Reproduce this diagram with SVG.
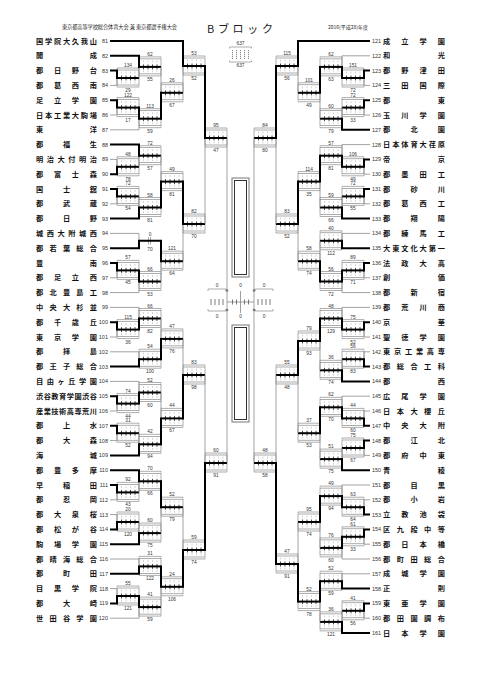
<svg xmlns="http://www.w3.org/2000/svg" xmlns:xlink="http://www.w3.org/1999/xlink" width="481" height="680" viewBox="0 0 481 680">
<style>
.nm{font-family:"Noto Sans CJK JP","Noto Sans CJK SC",sans-serif;font-size:7.2px;font-weight:700;fill:#111}
.no{font-family:"Liberation Sans",Arial,sans-serif;font-size:5.5px;fill:#333}
.ne{text-anchor:end}
.lb{font-family:"Liberation Sans",Arial,sans-serif;font-size:4.8px;fill:#333;text-anchor:middle}
.hd{font-family:"Noto Sans CJK JP","Noto Sans CJK SC",sans-serif;fill:#222}
.tn{stroke:#8a8a8a;stroke-width:0.8;fill:none}
.tk{stroke:#000;stroke-width:2;fill:none;stroke-linecap:square}
</style>
<defs>
<g id="bx">
<rect x="0" y="-8" width="22" height="15" fill="#fff" stroke="#777" stroke-width="0.6"/>
<path d="M0,-8.8V-10H22V-8.8M0,7.8V9H22V7.8" fill="none" stroke="#777" stroke-width="0.6"/>
<path d="M4.5,-6.5v2M9,-6.5v2M13.5,-6.5v2M18,-6.5v2M4.5,3.5v2M9,3.5v2M13.5,3.5v2M18,3.5v2" stroke="#aaa" stroke-width="0.5"/>
<path d="M4.5,-2.5v5M9,-2.5v5M13.5,-2.5v5M18,-2.5v5" stroke="#000" stroke-width="0.7"/>
<path d="M0,0H22" stroke="#000" stroke-width="2"/>
</g>
</defs>
<rect width="481" height="680" fill="#fff"/>
<g id="header">
<text class="hd" x="62" y="29" font-size="5.2" textLength="115" lengthAdjust="spacing">東京都高等学校総合体育大会 兼 東京都選手権大会</text>
<text class="hd" x="207" y="32.5" font-size="11" textLength="66" lengthAdjust="spacing">Bブロック</text>
<text class="hd" x="328" y="29" font-size="5" textLength="40" lengthAdjust="spacing">2016(平成28)年度</text>
</g>
<g id="teams-left">
<g id="t81"><text class="nm" x="36" y="43.6" textLength="61" lengthAdjust="spacing">国学院大久我山</text><text class="no ne" x="108" y="43">81</text></g>
<g id="t82"><text class="nm" x="36" y="58.4" textLength="61" lengthAdjust="spacing">開成</text><text class="no ne" x="108" y="57.8">82</text></g>
<g id="t83"><text class="nm" x="36" y="73.2" textLength="61" lengthAdjust="spacing">都日野台</text><text class="no ne" x="108" y="72.6">83</text></g>
<g id="t84"><text class="nm" x="36" y="88" textLength="61" lengthAdjust="spacing">都葛西南</text><text class="no ne" x="108" y="87.4">84</text></g>
<g id="t85"><text class="nm" x="36" y="102.8" textLength="61" lengthAdjust="spacing">足立学園</text><text class="no ne" x="108" y="102.2">85</text></g>
<g id="t86"><text class="nm" x="36" y="117.6" textLength="61" lengthAdjust="spacing">日本工業大駒場</text><text class="no ne" x="108" y="117">86</text></g>
<g id="t87"><text class="nm" x="36" y="132.4" textLength="61" lengthAdjust="spacing">東洋</text><text class="no ne" x="108" y="131.8">87</text></g>
<g id="t88"><text class="nm" x="36" y="147.2" textLength="61" lengthAdjust="spacing">都福生</text><text class="no ne" x="108" y="146.6">88</text></g>
<g id="t89"><text class="nm" x="36" y="162" textLength="61" lengthAdjust="spacing">明治大付明治</text><text class="no ne" x="108" y="161.4">89</text></g>
<g id="t90"><text class="nm" x="36" y="176.8" textLength="61" lengthAdjust="spacing">都富士森</text><text class="no ne" x="108" y="176.2">90</text></g>
<g id="t91"><text class="nm" x="36" y="191.6" textLength="61" lengthAdjust="spacing">国士舘</text><text class="no ne" x="108" y="191">91</text></g>
<g id="t92"><text class="nm" x="36" y="206.4" textLength="61" lengthAdjust="spacing">都武蔵</text><text class="no ne" x="108" y="205.8">92</text></g>
<g id="t93"><text class="nm" x="36" y="221.2" textLength="61" lengthAdjust="spacing">都日野</text><text class="no ne" x="108" y="220.6">93</text></g>
<g id="t94"><text class="nm" x="36" y="236" textLength="61" lengthAdjust="spacing">城西大附城西</text><text class="no ne" x="108" y="235.4">94</text></g>
<g id="t95"><text class="nm" x="36" y="250.8" textLength="61" lengthAdjust="spacing">都若葉総合</text><text class="no ne" x="108" y="250.2">95</text></g>
<g id="t96"><text class="nm" x="36" y="265.6" textLength="61" lengthAdjust="spacing">豊南</text><text class="no ne" x="108" y="265">96</text></g>
<g id="t97"><text class="nm" x="36" y="280.4" textLength="61" lengthAdjust="spacing">都足立西</text><text class="no ne" x="108" y="279.8">97</text></g>
<g id="t98"><text class="nm" x="36" y="295.2" textLength="61" lengthAdjust="spacing">都北豊島工</text><text class="no ne" x="108" y="294.6">98</text></g>
<g id="t99"><text class="nm" x="36" y="310" textLength="61" lengthAdjust="spacing">中央大杉並</text><text class="no ne" x="108" y="309.4">99</text></g>
<g id="t100"><text class="nm" x="36" y="324.8" textLength="61" lengthAdjust="spacing">都千歳丘</text><text class="no ne" x="108" y="324.2">100</text></g>
<g id="t101"><text class="nm" x="36" y="339.6" textLength="61" lengthAdjust="spacing">東京学園</text><text class="no ne" x="108" y="339">101</text></g>
<g id="t102"><text class="nm" x="36" y="354.4" textLength="61" lengthAdjust="spacing">都拝島</text><text class="no ne" x="108" y="353.8">102</text></g>
<g id="t103"><text class="nm" x="36" y="369.2" textLength="61" lengthAdjust="spacing">都王子総合</text><text class="no ne" x="108" y="368.6">103</text></g>
<g id="t104"><text class="nm" x="36" y="384" textLength="61" lengthAdjust="spacing">自由ヶ丘学園</text><text class="no ne" x="108" y="383.4">104</text></g>
<g id="t105"><text class="nm" x="36" y="398.8" textLength="61" lengthAdjust="spacing">渋谷教育学園渋谷</text><text class="no ne" x="108" y="398.2">105</text></g>
<g id="t106"><text class="nm" x="36" y="413.6" textLength="61" lengthAdjust="spacing">産業技術高専荒川</text><text class="no ne" x="108" y="413">106</text></g>
<g id="t107"><text class="nm" x="36" y="428.4" textLength="61" lengthAdjust="spacing">都上水</text><text class="no ne" x="108" y="427.8">107</text></g>
<g id="t108"><text class="nm" x="36" y="443.2" textLength="61" lengthAdjust="spacing">都大森</text><text class="no ne" x="108" y="442.6">108</text></g>
<g id="t109"><text class="nm" x="36" y="458" textLength="61" lengthAdjust="spacing">海城</text><text class="no ne" x="108" y="457.4">109</text></g>
<g id="t110"><text class="nm" x="36" y="472.8" textLength="61" lengthAdjust="spacing">都豊多摩</text><text class="no ne" x="108" y="472.2">110</text></g>
<g id="t111"><text class="nm" x="36" y="487.6" textLength="61" lengthAdjust="spacing">早稲田</text><text class="no ne" x="108" y="487">111</text></g>
<g id="t112"><text class="nm" x="36" y="502.4" textLength="61" lengthAdjust="spacing">都忍岡</text><text class="no ne" x="108" y="501.8">112</text></g>
<g id="t113"><text class="nm" x="36" y="517.2" textLength="61" lengthAdjust="spacing">都大泉桜</text><text class="no ne" x="108" y="516.6">113</text></g>
<g id="t114"><text class="nm" x="36" y="532" textLength="61" lengthAdjust="spacing">都松が谷</text><text class="no ne" x="108" y="531.4">114</text></g>
<g id="t115"><text class="nm" x="36" y="546.8" textLength="61" lengthAdjust="spacing">駒場学園</text><text class="no ne" x="108" y="546.2">115</text></g>
<g id="t116"><text class="nm" x="36" y="561.6" textLength="61" lengthAdjust="spacing">都晴海総合</text><text class="no ne" x="108" y="561">116</text></g>
<g id="t117"><text class="nm" x="36" y="576.4" textLength="61" lengthAdjust="spacing">都町田</text><text class="no ne" x="108" y="575.8">117</text></g>
<g id="t118"><text class="nm" x="36" y="591.2" textLength="61" lengthAdjust="spacing">目黒学院</text><text class="no ne" x="108" y="590.6">118</text></g>
<g id="t119"><text class="nm" x="36" y="606" textLength="61" lengthAdjust="spacing">都大崎</text><text class="no ne" x="108" y="605.4">119</text></g>
<g id="t120"><text class="nm" x="36" y="620.8" textLength="61" lengthAdjust="spacing">世田谷学園</text><text class="no ne" x="108" y="620.2">120</text></g>
</g>
<g id="teams-right">
<g id="t121"><text class="no" x="372" y="43">121</text><text class="nm" x="383" y="43.6" textLength="62" lengthAdjust="spacing">成立学園</text></g>
<g id="t122"><text class="no" x="372" y="57.8">122</text><text class="nm" x="383" y="58.4" textLength="62" lengthAdjust="spacing">和光</text></g>
<g id="t123"><text class="no" x="372" y="72.6">123</text><text class="nm" x="383" y="73.2" textLength="62" lengthAdjust="spacing">都野津田</text></g>
<g id="t124"><text class="no" x="372" y="87.4">124</text><text class="nm" x="383" y="88" textLength="62" lengthAdjust="spacing">三田国際</text></g>
<g id="t125"><text class="no" x="372" y="102.2">125</text><text class="nm" x="383" y="102.8" textLength="62" lengthAdjust="spacing">都東</text></g>
<g id="t126"><text class="no" x="372" y="117">126</text><text class="nm" x="383" y="117.6" textLength="62" lengthAdjust="spacing">玉川学園</text></g>
<g id="t127"><text class="no" x="372" y="131.8">127</text><text class="nm" x="383" y="132.4" textLength="62" lengthAdjust="spacing">都北園</text></g>
<g id="t128"><text class="no" x="372" y="146.6">128</text><text class="nm" x="383" y="147.2" textLength="62" lengthAdjust="spacing">日本体育大荏原</text></g>
<g id="t129"><text class="no" x="372" y="161.4">129</text><text class="nm" x="383" y="162" textLength="62" lengthAdjust="spacing">帝京</text></g>
<g id="t130"><text class="no" x="372" y="176.2">130</text><text class="nm" x="383" y="176.8" textLength="62" lengthAdjust="spacing">都墨田工</text></g>
<g id="t131"><text class="no" x="372" y="191">131</text><text class="nm" x="383" y="191.6" textLength="62" lengthAdjust="spacing">都砂川</text></g>
<g id="t132"><text class="no" x="372" y="205.8">132</text><text class="nm" x="383" y="206.4" textLength="62" lengthAdjust="spacing">都葛西工</text></g>
<g id="t133"><text class="no" x="372" y="220.6">133</text><text class="nm" x="383" y="221.2" textLength="62" lengthAdjust="spacing">都翔陽</text></g>
<g id="t134"><text class="no" x="372" y="235.4">134</text><text class="nm" x="383" y="236" textLength="62" lengthAdjust="spacing">都練馬工</text></g>
<g id="t135"><text class="no" x="372" y="250.2">135</text><text class="nm" x="383" y="250.8" textLength="62" lengthAdjust="spacing">大東文化大第一</text></g>
<g id="t136"><text class="no" x="372" y="265">136</text><text class="nm" x="383" y="265.6" textLength="62" lengthAdjust="spacing">法政大高</text></g>
<g id="t137"><text class="no" x="372" y="279.8">137</text><text class="nm" x="383" y="280.4" textLength="62" lengthAdjust="spacing">創価</text></g>
<g id="t138"><text class="no" x="372" y="294.6">138</text><text class="nm" x="383" y="295.2" textLength="62" lengthAdjust="spacing">都新宿</text></g>
<g id="t139"><text class="no" x="372" y="309.4">139</text><text class="nm" x="383" y="310" textLength="62" lengthAdjust="spacing">都荒川商</text></g>
<g id="t140"><text class="no" x="372" y="324.2">140</text><text class="nm" x="383" y="324.8" textLength="62" lengthAdjust="spacing">京華</text></g>
<g id="t141"><text class="no" x="372" y="339">141</text><text class="nm" x="383" y="339.6" textLength="62" lengthAdjust="spacing">聖徳学園</text></g>
<g id="t142"><text class="no" x="372" y="353.8">142</text><text class="nm" x="383" y="354.4" textLength="62" lengthAdjust="spacing">東京工業高専</text></g>
<g id="t143"><text class="no" x="372" y="368.6">143</text><text class="nm" x="383" y="369.2" textLength="62" lengthAdjust="spacing">都総合工科</text></g>
<g id="t144"><text class="no" x="372" y="383.4">144</text><text class="nm" x="383" y="384" textLength="62" lengthAdjust="spacing">都西</text></g>
<g id="t145"><text class="no" x="372" y="398.2">145</text><text class="nm" x="383" y="398.8" textLength="62" lengthAdjust="spacing">広尾学園</text></g>
<g id="t146"><text class="no" x="372" y="413">146</text><text class="nm" x="383" y="413.6" textLength="62" lengthAdjust="spacing">日本大櫻丘</text></g>
<g id="t147"><text class="no" x="372" y="427.8">147</text><text class="nm" x="383" y="428.4" textLength="62" lengthAdjust="spacing">中央大附</text></g>
<g id="t148"><text class="no" x="372" y="442.6">148</text><text class="nm" x="383" y="443.2" textLength="62" lengthAdjust="spacing">都江北</text></g>
<g id="t149"><text class="no" x="372" y="457.4">149</text><text class="nm" x="383" y="458" textLength="62" lengthAdjust="spacing">都府中東</text></g>
<g id="t150"><text class="no" x="372" y="472.2">150</text><text class="nm" x="383" y="472.8" textLength="62" lengthAdjust="spacing">青稜</text></g>
<g id="t151"><text class="no" x="372" y="487">151</text><text class="nm" x="383" y="487.6" textLength="62" lengthAdjust="spacing">都目黒</text></g>
<g id="t152"><text class="no" x="372" y="501.8">152</text><text class="nm" x="383" y="502.4" textLength="62" lengthAdjust="spacing">都小岩</text></g>
<g id="t153"><text class="no" x="372" y="516.6">153</text><text class="nm" x="383" y="517.2" textLength="62" lengthAdjust="spacing">立教池袋</text></g>
<g id="t154"><text class="no" x="372" y="531.4">154</text><text class="nm" x="383" y="532" textLength="62" lengthAdjust="spacing">区九段中等</text></g>
<g id="t155"><text class="no" x="372" y="546.2">155</text><text class="nm" x="383" y="546.8" textLength="62" lengthAdjust="spacing">都日本橋</text></g>
<g id="t156"><text class="no" x="372" y="561">156</text><text class="nm" x="383" y="561.6" textLength="62" lengthAdjust="spacing">都町田総合</text></g>
<g id="t157"><text class="no" x="372" y="575.8">157</text><text class="nm" x="383" y="576.4" textLength="62" lengthAdjust="spacing">成城学園</text></g>
<g id="t158"><text class="no" x="372" y="590.6">158</text><text class="nm" x="383" y="591.2" textLength="62" lengthAdjust="spacing">正則</text></g>
<g id="t159"><text class="no" x="372" y="605.4">159</text><text class="nm" x="383" y="606" textLength="62" lengthAdjust="spacing">東亜学園</text></g>
<g id="t160"><text class="no" x="372" y="620.2">160</text><text class="nm" x="383" y="620.8" textLength="62" lengthAdjust="spacing">都田園調布</text></g>
<g id="t161"><text class="no" x="372" y="635">161</text><text class="nm" x="383" y="635.6" textLength="62" lengthAdjust="spacing">日本学園</text></g>
</g>
<g id="matches-left">
<g id="L1a"><use href="#bx" x="117" y="78"/><text class="lb" x="128" y="67">134</text><text class="lb" x="128" y="92">29</text></g>
<g id="L1b"><use href="#bx" x="117" y="107.6"/><text class="lb" x="128" y="96.6">122</text><text class="lb" x="128" y="121.6">17</text></g>
<g id="L1c"><use href="#bx" x="117" y="166.8"/><text class="lb" x="128" y="155.8">48</text><text class="lb" x="128" y="180.8">78</text></g>
<g id="L1d"><use href="#bx" x="117" y="196.4"/><text class="lb" x="128" y="185.4">72</text><text class="lb" x="128" y="210.4">54</text></g>
<g id="L1e"><use href="#bx" x="117" y="270.4"/><text class="lb" x="128" y="259.4">57</text><text class="lb" x="128" y="284.4">45</text></g>
<g id="L1f"><use href="#bx" x="117" y="329.6"/><text class="lb" x="128" y="318.6">115</text><text class="lb" x="128" y="343.6">36</text></g>
<g id="L1g"><use href="#bx" x="117" y="403.6"/><text class="lb" x="128" y="392.6">74</text><text class="lb" x="128" y="417.6">44</text></g>
<g id="L1h"><use href="#bx" x="117" y="433.2"/><text class="lb" x="128" y="422.2">31</text><text class="lb" x="128" y="447.2">52</text></g>
<g id="L1i"><use href="#bx" x="117" y="492.4"/><text class="lb" x="128" y="481.4">92</text><text class="lb" x="128" y="506.4">43</text></g>
<g id="L1j"><use href="#bx" x="117" y="522"/><text class="lb" x="128" y="511">20</text><text class="lb" x="128" y="536">120</text></g>
<g id="L1k"><use href="#bx" x="117" y="596"/><text class="lb" x="128" y="585">55</text><text class="lb" x="128" y="610">121</text></g>
<g id="L2a"><use href="#bx" x="139" y="66.9"/><text class="lb" x="150" y="55.9">62</text><text class="lb" x="150" y="80.9">55</text></g>
<g id="L2b"><use href="#bx" x="139" y="118.7"/><text class="lb" x="150" y="107.7">113</text><text class="lb" x="150" y="132.7">59</text></g>
<g id="L2c"><use href="#bx" x="139" y="155.7"/><text class="lb" x="150" y="144.7">72</text><text class="lb" x="150" y="169.7">57</text></g>
<g id="L2d"><use href="#bx" x="139" y="207.5"/><text class="lb" x="150" y="196.5">58</text><text class="lb" x="150" y="221.5">81</text></g>
<g id="L2e"><path d="M148.5,237V244.5M150.5,237V244.5" stroke="#777" stroke-width="0.6"/><text class="lb" x="150" y="235.5">0</text><text class="lb" x="150" y="251">70</text></g>
<g id="L2f"><use href="#bx" x="139" y="281.5"/><text class="lb" x="150" y="270.5">66</text><text class="lb" x="150" y="295.5">53</text></g>
<g id="L2g"><use href="#bx" x="139" y="318.5"/><text class="lb" x="150" y="307.5">66</text><text class="lb" x="150" y="332.5">82</text></g>
<g id="L2h"><use href="#bx" x="139" y="359.2"/><text class="lb" x="150" y="348.2">54</text><text class="lb" x="150" y="373.2">100</text></g>
<g id="L2i"><use href="#bx" x="139" y="392.5"/><text class="lb" x="150" y="381.5">52</text><text class="lb" x="150" y="406.5">60</text></g>
<g id="L2j"><use href="#bx" x="139" y="444.3"/><text class="lb" x="150" y="433.3">42</text><text class="lb" x="150" y="458.3">94</text></g>
<g id="L2k"><use href="#bx" x="139" y="481.3"/><text class="lb" x="150" y="470.3">70</text><text class="lb" x="150" y="495.3">66</text></g>
<g id="L2l"><use href="#bx" x="139" y="533.1"/><text class="lb" x="150" y="522.1">60</text><text class="lb" x="150" y="547.1">75</text></g>
<g id="L2m"><use href="#bx" x="139" y="566.4"/><text class="lb" x="150" y="555.4">31</text><text class="lb" x="150" y="580.4">122</text></g>
<g id="L2n"><use href="#bx" x="139" y="607.1"/><text class="lb" x="150" y="596.1">41</text><text class="lb" x="150" y="621.1">59</text></g>
<g id="L3a"><use href="#bx" x="161" y="92.8"/><text class="lb" x="172" y="81.8">26</text><text class="lb" x="172" y="106.8">67</text></g>
<g id="L3b"><use href="#bx" x="161" y="181.6"/><text class="lb" x="172" y="170.6">49</text><text class="lb" x="172" y="195.6">81</text></g>
<g id="L3c"><use href="#bx" x="161" y="261.2"/><text class="lb" x="172" y="250.2">121</text><text class="lb" x="172" y="275.2">64</text></g>
<g id="L3d"><use href="#bx" x="161" y="338.9"/><text class="lb" x="172" y="327.9">47</text><text class="lb" x="172" y="352.9">76</text></g>
<g id="L3e"><use href="#bx" x="161" y="418.4"/><text class="lb" x="172" y="407.4">44</text><text class="lb" x="172" y="432.4">67</text></g>
<g id="L3f"><use href="#bx" x="161" y="507.2"/><text class="lb" x="172" y="496.2">52</text><text class="lb" x="172" y="521.2">79</text></g>
<g id="L3g"><use href="#bx" x="161" y="586.8"/><text class="lb" x="172" y="575.8">24</text><text class="lb" x="172" y="600.8">106</text></g>
<g id="L4a"><use href="#bx" x="183" y="66"/><text class="lb" x="194" y="55">53</text><text class="lb" x="194" y="80">52</text></g>
<g id="L4b"><use href="#bx" x="183" y="224"/><text class="lb" x="194" y="213">82</text><text class="lb" x="194" y="238">70</text></g>
<g id="L4c"><use href="#bx" x="183" y="375"/><text class="lb" x="194" y="364">83</text><text class="lb" x="194" y="389">98</text></g>
<g id="L4d"><use href="#bx" x="183" y="550"/><text class="lb" x="194" y="539">59</text><text class="lb" x="194" y="564">74</text></g>
<g id="L5a"><use href="#bx" x="205" y="138"/><text class="lb" x="216" y="127">95</text><text class="lb" x="216" y="152">47</text></g>
<g id="L5b"><use href="#bx" x="205" y="463"/><text class="lb" x="216" y="452">60</text><text class="lb" x="216" y="477">91</text></g>
</g>
<g id="matches-right">
<g id="Ra1a"><use href="#bx" x="342" y="78"/><text class="lb" x="353" y="67">151</text><text class="lb" x="353" y="92">72</text></g>
<g id="Ra1b"><use href="#bx" x="342" y="107.6"/><text class="lb" x="353" y="96.6">72</text><text class="lb" x="353" y="121.6">33</text></g>
<g id="Ra1c"><use href="#bx" x="342" y="166.8"/><text class="lb" x="353" y="155.8">106</text><text class="lb" x="353" y="180.8">49</text></g>
<g id="Ra1d"><use href="#bx" x="342" y="196.4"/><text class="lb" x="353" y="185.4">72</text><text class="lb" x="353" y="210.4">55</text></g>
<g id="Ra1e"><use href="#bx" x="342" y="270.4"/><text class="lb" x="353" y="259.4">89</text><text class="lb" x="353" y="284.4">71</text></g>
<g id="Rb1a"><use href="#bx" x="342" y="329.6"/><text class="lb" x="353" y="318.6">75</text><text class="lb" x="353" y="343.6">52</text></g>
<g id="Rb1b"><use href="#bx" x="342" y="359.2"/><text class="lb" x="353" y="348.2">56</text><text class="lb" x="353" y="373.2">83</text></g>
<g id="Rb1c"><use href="#bx" x="342" y="418.4"/><text class="lb" x="353" y="407.4">44</text><text class="lb" x="353" y="432.4">60</text></g>
<g id="Rb1d"><use href="#bx" x="342" y="448"/><text class="lb" x="353" y="437">75</text><text class="lb" x="353" y="462">67</text></g>
<g id="Rb1e"><use href="#bx" x="342" y="507.2"/><text class="lb" x="353" y="496.2">63</text><text class="lb" x="353" y="521.2">64</text></g>
<g id="Rb1f"><use href="#bx" x="342" y="536.8"/><text class="lb" x="353" y="525.8">61</text><text class="lb" x="353" y="550.8">33</text></g>
<g id="Rb1g"><use href="#bx" x="342" y="610.8"/><text class="lb" x="353" y="599.8">41</text><text class="lb" x="353" y="624.8">56</text></g>
<g id="Ra2a"><use href="#bx" x="320" y="66.9"/><text class="lb" x="331" y="55.9">62</text><text class="lb" x="331" y="80.9">63</text></g>
<g id="Ra2b"><use href="#bx" x="320" y="118.7"/><text class="lb" x="331" y="107.7">60</text><text class="lb" x="331" y="132.7">79</text></g>
<g id="Ra2c"><use href="#bx" x="320" y="155.7"/><text class="lb" x="331" y="144.7">57</text><text class="lb" x="331" y="169.7">81</text></g>
<g id="Ra2d"><use href="#bx" x="320" y="207.5"/><text class="lb" x="331" y="196.5">59</text><text class="lb" x="331" y="221.5">66</text></g>
<g id="Ra2e"><use href="#bx" x="320" y="240.8"/><text class="lb" x="331" y="229.8">40</text><text class="lb" x="331" y="254.8">112</text></g>
<g id="Ra2f"><use href="#bx" x="320" y="281.5"/><text class="lb" x="331" y="270.5">56</text><text class="lb" x="331" y="295.5">72</text></g>
<g id="Rb2a"><use href="#bx" x="320" y="318.5"/><text class="lb" x="331" y="307.5">48</text><text class="lb" x="331" y="332.5">129</text></g>
<g id="Rb2b"><use href="#bx" x="320" y="370.3"/><text class="lb" x="331" y="359.3">36</text><text class="lb" x="331" y="384.3">74</text></g>
<g id="Rb2c"><use href="#bx" x="320" y="407.3"/><text class="lb" x="331" y="396.3">62</text><text class="lb" x="331" y="421.3">70</text></g>
<g id="Rb2d"><use href="#bx" x="320" y="459.1"/><text class="lb" x="331" y="448.1">51</text><text class="lb" x="331" y="473.1">75</text></g>
<g id="Rb2e"><use href="#bx" x="320" y="496.1"/><text class="lb" x="331" y="485.1">49</text><text class="lb" x="331" y="510.1">94</text></g>
<g id="Rb2f"><use href="#bx" x="320" y="547.9"/><text class="lb" x="331" y="536.9">76</text><text class="lb" x="331" y="561.9">60</text></g>
<g id="Rb2g"><use href="#bx" x="320" y="581.2"/><text class="lb" x="331" y="570.2">52</text><text class="lb" x="331" y="595.2">59</text></g>
<g id="Rb2h"><use href="#bx" x="320" y="621.9"/><text class="lb" x="331" y="610.9">36</text><text class="lb" x="331" y="635.9">121</text></g>
<g id="Ra3a"><use href="#bx" x="298" y="92.8"/><text class="lb" x="309" y="81.8">101</text><text class="lb" x="309" y="106.8">49</text></g>
<g id="Ra3b"><use href="#bx" x="298" y="181.6"/><text class="lb" x="309" y="170.6">114</text><text class="lb" x="309" y="195.6">35</text></g>
<g id="Ra3c"><use href="#bx" x="298" y="261.2"/><text class="lb" x="309" y="250.2">58</text><text class="lb" x="309" y="275.2">74</text></g>
<g id="Rb3a"><use href="#bx" x="298" y="341"/><text class="lb" x="309" y="330">79</text><text class="lb" x="309" y="355">93</text></g>
<g id="Rb3b"><use href="#bx" x="298" y="433.2"/><text class="lb" x="309" y="422.2">37</text><text class="lb" x="309" y="447.2">53</text></g>
<g id="Rb3c"><use href="#bx" x="298" y="522"/><text class="lb" x="309" y="511">95</text><text class="lb" x="309" y="536">74</text></g>
<g id="Rb3d"><use href="#bx" x="298" y="601.6"/><text class="lb" x="309" y="590.6">52</text><text class="lb" x="309" y="615.6">78</text></g>
<g id="Ra4a"><use href="#bx" x="276" y="66"/><text class="lb" x="287" y="55">115</text><text class="lb" x="287" y="80">56</text></g>
<g id="Ra4b"><use href="#bx" x="276" y="224"/><text class="lb" x="287" y="213">83</text><text class="lb" x="287" y="238">52</text></g>
<g id="Rb4a"><use href="#bx" x="276" y="375"/><text class="lb" x="287" y="364">55</text><text class="lb" x="287" y="389">48</text></g>
<g id="Rb4b"><use href="#bx" x="276" y="564"/><text class="lb" x="287" y="553">47</text><text class="lb" x="287" y="578">91</text></g>
<g id="Ra5"><use href="#bx" x="254" y="138"/><text class="lb" x="265" y="127">84</text><text class="lb" x="265" y="152">80</text></g>
<g id="Rb5"><use href="#bx" x="254" y="463"/><text class="lb" x="265" y="452">48</text><text class="lb" x="265" y="477">58</text></g>
</g>
<g id="center">
<g id="top-box"><text class="lb" x="240.5" y="45" font-size="4.5">637</text><path d="M229.5,48.5V47H251.5V48.5M229.5,60.5V62H251.5V60.5" fill="none" stroke="#777" stroke-width="0.6"/><path d="M232.5,50V59M236.5,50V59M240.5,50V59M244.5,50V59M248.5,50V59" stroke="#555" stroke-width="0.7" stroke-dasharray="1.2,0.8"/><text class="lb" x="240.5" y="67" font-size="4.5">637</text></g>
<g id="upper-rect"><rect x="232" y="178" width="17" height="99" fill="#fff" stroke="#777" stroke-width="1"/><rect x="234.5" y="180.5" width="12" height="94" fill="none" stroke="#333" stroke-width="1"/></g>
<g id="lower-rect"><rect x="232" y="325" width="17" height="97" fill="#fff" stroke="#777" stroke-width="1"/><rect x="234.5" y="327.5" width="12" height="92" fill="none" stroke="#333" stroke-width="1"/></g>
<g id="left-final"><text class="lb" x="217" y="287">0</text><path d="M208,291V289H226V291M208,309V311H226V309" fill="none" stroke="#777" stroke-width="0.6"/><path d="M211,299V305M215,299V305M219,299V305M223,299V305" stroke="#444" stroke-width="0.7"/><text class="lb" x="217" y="318">0</text></g>
<g id="block-final"><text class="lb" x="240.5" y="287">0</text><path d="M227,302H254M240.5,291V313" stroke="#777" stroke-width="0.7"/><path d="M232.5,299.5V304.5M236.5,299.5V304.5M244.5,299.5V304.5M248.5,299.5V304.5" stroke="#444" stroke-width="0.7"/><text class="lb" x="240.5" y="318">0</text></g>
<g id="right-final"><text class="lb" x="264" y="287">0</text><path d="M255,291V289H273V291M255,309V311H273V309" fill="none" stroke="#777" stroke-width="0.6"/><path d="M258,299V305M262,299V305M266,299V305M270,299V305" stroke="#444" stroke-width="0.7"/><text class="lb" x="264" y="318">0</text></g>
</g>
<g id="connectors">
<path class="tn" d="M110,85.4H117M110,115H117M110,129.8H139M110,159.4H117M110,203.8H117M110,233.4H139M110,277.8H117M110,292.6H139M110,307.4H139M110,337H117M110,351.8H139M110,381.4H139M110,411H117M110,440.6H117M110,499.8H117M110,514.6H117M110,559H139M110,588.6H117M110,618.2H139M117,85.4V78M117,115V107.6M117,159.4V166.8M117,203.8V196.4M117,277.8V270.4M117,337V329.6M117,411V403.6M117,440.6V433.2M117,499.8V492.4M117,514.6V522M117,588.6V596M139,78V66.9M139,129.8V118.7M139,166.8V155.7M139,196.4V207.5M139,233.4V240.8M139,292.6V281.5M139,307.4V318.5M139,351.8V359.2M139,381.4V392.5M139,433.2V444.3M139,492.4V481.3M139,522V533.1M139,559V566.4M139,618.2V607.1M161,66.9V92.8M161,155.7V181.6M161,281.5V261.2M161,318.5V338.9M161,392.5V418.4M161,533.1V507.2M161,607.1V586.8M183,92.8V66M183,261.2V224M183,338.9V375M183,507.2V550M205,224V138M205,375V463M227,138V463M254,138V463"/>
<path class="tn" d="M342,55.8H370M364,85.4H370M364,115H370M342,144.6H370M364,174.2H370M364,203.8H370M342,233.4H370M364,277.8H370M342,292.6H370M342,307.4H370M364,337H370M364,351.8H370M342,396.2H370M364,411H370M364,455.4H370M342,485H370M364,499.8H370M364,544.2H370M342,559H370M342,573.8H370M364,618.2H370M364,85.4V78M364,115V107.6M364,174.2V166.8M364,203.8V196.4M364,277.8V270.4M364,337V329.6M364,351.8V359.2M364,411V418.4M364,455.4V448M364,499.8V507.2M364,544.2V536.8M364,618.2V610.8M342,55.8V66.9M342,107.6V118.7M342,144.6V155.7M342,196.4V207.5M342,233.4V240.8M342,292.6V281.5M342,307.4V318.5M342,359.2V370.3M342,396.2V407.3M342,448V459.1M342,485V496.1M342,559V547.9M342,573.8V581.2M342,610.8V621.9M320,118.7V92.8M320,207.5V181.6M320,240.8V261.2M320,370.3V341M320,459.1V433.2M320,547.9V522M320,621.9V601.6M298,92.8V66M298,261.2V224M298,433.2V375M298,522V564M276,224V138M276,375V463"/>
<path class="tk" d="M111,41H183M111,55.8H139M111,70.6H117M111,100.2H117M111,144.6H139M111,174.2H117M111,189H117M111,218.6H139M111,248.2H139M111,263H117M111,322.2H117M111,366.6H139M111,396.2H117M111,425.8H117M111,455.4H139M111,470.2H139M111,485H117M111,529.4H117M111,544.2H139M111,573.8H139M111,603.4H117M117,70.6V78M117,100.2V107.6M117,174.2V166.8M117,189V196.4M117,263V270.4M117,322.2V329.6M117,396.2V403.6M117,425.8V433.2M117,485V492.4M117,529.4V522M117,603.4V596M139,55.8V66.9M139,107.6V118.7M139,144.6V155.7M139,218.6V207.5M139,248.2V240.8H161M139,270.4V281.5M139,329.6V318.5M139,366.6V359.2M139,403.6V392.5M139,455.4V444.3M139,470.2V481.3M139,544.2V533.1M139,573.8V566.4M139,596V607.1M161,118.7V92.8M161,207.5V181.6M161,240.8V261.2M161,359.2V338.9M161,444.3V418.4M161,481.3V507.2M161,566.4V586.8M183,41V66M183,181.6V224M183,418.4V375M183,586.8V550M205,66V138M205,550V463"/>
<path class="tk" d="M298,41H369M364,70.6H369M364,100.2H369M342,129.8H369M364,159.4H369M364,189H369M342,218.6H369M342,248.2H369M364,263H369M364,322.2H369M364,366.6H369M342,381.4H369M364,425.8H369M364,440.6H369M342,470.2H369M364,514.6H369M364,529.4H369M342,588.6H369M364,603.4H369M342,633H369M364,70.6V78M364,100.2V107.6M364,159.4V166.8M364,189V196.4M364,263V270.4M364,322.2V329.6M364,366.6V359.2M364,425.8V418.4M364,440.6V448M364,514.6V507.2M364,529.4V536.8M364,603.4V610.8M342,78V66.9M342,129.8V118.7M342,166.8V155.7M342,218.6V207.5M342,248.2V240.8M342,270.4V281.5M342,329.6V318.5M342,381.4V370.3M342,418.4V407.3M342,470.2V459.1M342,507.2V496.1M342,536.8V547.9M342,588.6V581.2M342,633V621.9M320,66.9V92.8M320,155.7V181.6M320,281.5V261.2M320,318.5V341M320,407.3V433.2M320,496.1V522M320,581.2V601.6M298,41V66M298,181.6V224M298,341V375M298,601.6V564M276,66V138M276,564V463"/>
<circle cx="227" cy="290.5" r="1.3" fill="#777"/><circle cx="227" cy="310" r="1.3" fill="#777"/><circle cx="254" cy="290.5" r="1.3" fill="#777"/><circle cx="254" cy="310" r="1.3" fill="#777"/>
</g>
</svg>
